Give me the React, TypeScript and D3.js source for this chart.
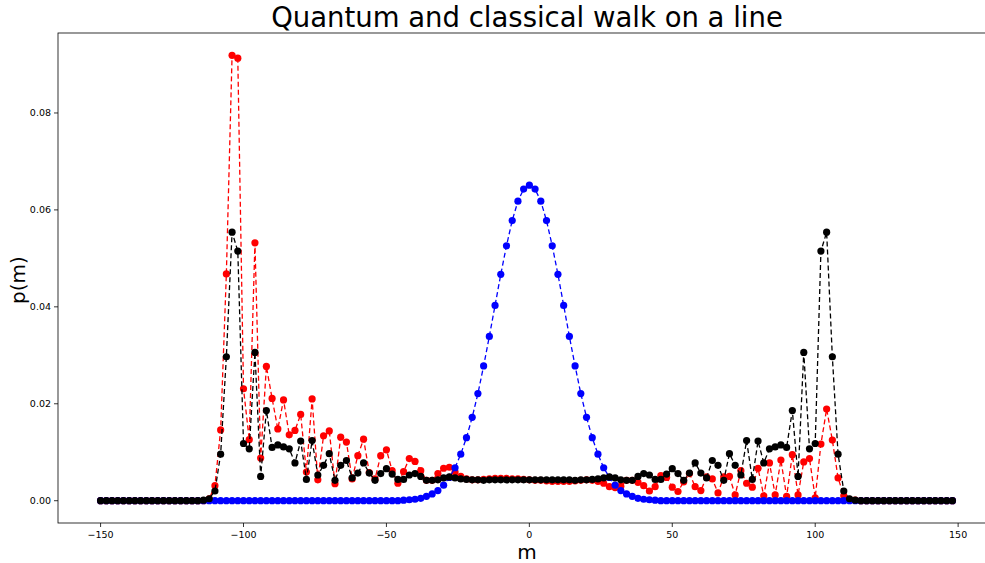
import React from 'react';
import * as d3 from 'd3';

// lattice sites m = -150, -148, ..., 148
const positions: number[] = d3.range(-150, 150, 2);

// Classical random walk (blue)
const classicalWalk: number[] = [
  0,0,0,0,0,0,0,0,0,0, 0,0,0,0,0,0,0,0,0,0,
  0,0,0,0,0,0,0,0,0,0, 0,0,0,0,0,0,0,0,0,0,
  0,0,0,0,0,0,0,0,0,0, 0,0,0,
  0.0001,0.0002,0.0003,0.0005,0.0009,0.0014,0.0021,0.0032,0.0048,0.0068,
  0.0096,0.0130,0.0172,0.0221,0.0278,0.0339,0.0403,0.0467,0.0526,0.0578,
  0.0618,0.0643,0.0651,0.0643,0.0618,0.0578,0.0526,0.0467,0.0403,0.0339,
  0.0278,0.0221,0.0172,0.0130,0.0096,0.0068,0.0048,0.0032,0.0021,0.0014,
  0.0009,0.0005,0.0003,0.0002,0.0001,
  0,0,0,0,0,0,0,0,0,0, 0,0,0,0,0,0,0,0,0,0,
  0,0,0,0,0,0,0,0,0,0, 0,0,0,0,0,0,0,0,0,0,
  0,0,0,0,0,0,0,0,0,0, 0,0,
];

// Quantum walk, asymmetric initial coin state (red)
const quantumWalk: number[] = [
  0,0,0,0,0,0,0,0,0,0, 0,0,0,0,0,0,0,0,0,
  0.0004,0.0031,0.0146,0.0468,0.0919,0.0913,0.0231,0.0126,0.0532,0.0088,
  0.0277,0.0211,0.0148,0.0208,0.0136,0.0145,0.0178,0.0059,0.0210,0.0043,
  0.0134,0.0144,0.0035,0.0131,0.0121,0.0045,0.0093,0.0127,0.0058,0.0045,
  0.0093,0.0105,0.0062,0.0036,0.0060,0.0087,0.0081,0.0062,0.0042,0.0042,
  0.0056,0.0067,0.0069,0.0059,0.0050,0.0045,0.0043,0.0043,0.0044,0.0045,
  0.0046,0.0046,0.0046,0.0045,0.0045,0.0044,0.0043,0.0042,0.0042,0.0041,
  0.0040,0.0040,0.0040,0.0040,0.0041,0.0042,0.0043,0.0042,0.0040,0.0036,
  0.0029,0.0027,0.0030,0.0042,0.0042,0.0038,0.0031,0.0020,0.0029,0.0052,
  0.0048,0.0028,0.0019,0.0039,0.0056,0.0029,0.0021,0.0049,0.0045,0.0016,
  0.0049,0.0050,0.0012,0.0062,0.0036,0.0028,0.0067,0.0010,0.0078,0.0012,
  0.0084,0.0009,0.0095,0.0012,0.0080,0.0087,0.0006,0.0117,0.0189,0.0125,
  0.0047,0.0010,0.0003,0.0001,
  0,0,0,0,0,0,0,0,0,0, 0,0,0,0,0,0,0,
];

// Quantum walk, symmetric initial coin state (black)
const symmetricWalk: number[] = [
  0,0,0,0,0,0,0,0,0,0, 0,0,0,0,0,0,0,0,
  0.0001,0.0004,0.0020,0.0096,0.0297,0.0554,0.0515,0.0118,0.0107,0.0306,
  0.0050,0.0186,0.0110,0.0115,0.0111,0.0107,0.0078,0.0123,0.0044,0.0124,
  0.0053,0.0073,0.0097,0.0042,0.0073,0.0083,0.0047,0.0057,0.0078,0.0057,
  0.0042,0.0056,0.0066,0.0055,0.0044,0.0044,0.0053,0.0056,0.0050,0.0042,
  0.0042,0.0043,0.0047,0.0049,0.0047,0.0045,0.0044,0.0043,0.0043,0.0042,
  0.0043,0.0043,0.0043,0.0043,0.0043,0.0043,0.0043,0.0043,0.0043,0.0043,
  0.0043,0.0043,0.0043,0.0043,0.0043,0.0042,0.0043,0.0043,0.0044,0.0045,
  0.0047,0.0049,0.0047,0.0043,0.0042,0.0042,0.0050,0.0056,0.0053,0.0044,
  0.0044,0.0055,0.0066,0.0056,0.0042,0.0057,0.0078,0.0057,0.0047,0.0083,
  0.0073,0.0042,0.0097,0.0073,0.0053,0.0124,0.0044,0.0123,0.0078,0.0107,
  0.0111,0.0115,0.0110,0.0186,0.0050,0.0306,0.0107,0.0118,0.0515,0.0554,
  0.0297,0.0096,0.0020,0.0004,0.0001,
  0,0,0,0,0,0,0,0,0,0, 0,0,0,0,0,0,0,
];

const xTicks = [-150, -100, -50, 0, 50, 100, 150];
const yTicks = [0, 0.02, 0.04, 0.06, 0.08];

const seriesList = [
  { name: 'quantum', values: quantumWalk, color: '#ff0000' },
  { name: 'classical', values: classicalWalk, color: '#0000ff' },
  { name: 'symmetric', values: symmetricWalk, color: '#000000' },
];

const W = 985;
const H = 563;
const left = 58;
const right = 995;
const top = 33;
const bottom = 523;
const FONT = 'DejaVu Sans, sans-serif';

export default function App() {
  const x = d3.scaleLinear().domain([-164.9, 162.9]).range([left, right]);
  const y = d3.scaleLinear().domain([-0.0046, 0.0965]).range([bottom, top]);

  const line = d3
    .line<number>()
    .x((_, i) => x(positions[i]))
    .y((d) => y(d));

  return (
    <svg
      width={W}
      height={H}
      style={{ position: 'absolute', left: 0, top: 0, background: '#fff' }}
      fontFamily={FONT}
    >
      <rect x={0} y={0} width={W} height={H} fill="#fff" />
      <text x={527} y={27} textAnchor="middle" fontSize={27.5} fill="#000">
        Quantum and classical walk on a line
      </text>

      {seriesList.map((s) => (
        <g key={s.name}>
          <path
            d={line(s.values) || ''}
            fill="none"
            stroke={s.color}
            strokeWidth={1.3}
            strokeDasharray="5,3"
          />
          {s.values.map((v, i) => (
            <circle key={i} cx={x(positions[i])} cy={y(v)} r={3.6} fill={s.color} />
          ))}
        </g>
      ))}

      {/* spines */}
      <rect
        x={left}
        y={top}
        width={right - left}
        height={bottom - top}
        fill="none"
        stroke="#000"
        strokeWidth={0.8}
      />

      {xTicks.map((t) => (
        <g key={t}>
          <line x1={x(t)} x2={x(t)} y1={bottom} y2={bottom + 4} stroke="#000" strokeWidth={0.8} />
          <text x={x(t)} y={bottom + 15} textAnchor="middle" fontSize={9.5} fill="#000">
            {t < 0 ? '\u2212' + Math.abs(t) : String(t)}
          </text>
        </g>
      ))}
      {yTicks.map((t) => (
        <g key={t}>
          <line x1={left - 4} x2={left} y1={y(t)} y2={y(t)} stroke="#000" strokeWidth={0.8} />
          <text
            x={left - 7}
            y={y(t)}
            textAnchor="end"
            dominantBaseline="central"
            fontSize={9.5}
            fill="#000"
          >
            {t.toFixed(2)}
          </text>
        </g>
      ))}

      <text x={527} y={558.5} textAnchor="middle" fontSize={20} fill="#000">
        m
      </text>
      <text
        transform={`translate(18, 280) rotate(-90)`}
        textAnchor="middle"
        dominantBaseline="central"
        fontSize={20}
        fill="#000"
      >
        p(m)
      </text>
    </svg>
  );
}
